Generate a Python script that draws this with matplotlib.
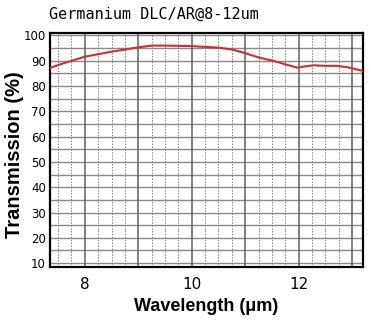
import numpy as np
import matplotlib
matplotlib.use("Agg")
import matplotlib.pyplot as plt

# transmission curve
wavelength = [7.35, 7.6, 8.0, 8.5, 9.0, 9.25, 9.5, 10.0, 10.15, 10.5, 10.77, 11.0, 11.27, 11.52, 11.75, 11.97, 12.27, 12.5, 12.7, 12.9, 13.2]
transmission = [87.2, 89.0, 91.6, 93.6, 95.3, 96.0, 96.0, 95.8, 95.6, 95.2, 94.4, 93.0, 91.2, 90.0, 88.6, 87.3, 88.2, 88.0, 88.0, 87.5, 86.0]

xtick_vals = [8, 10, 12]
ytick_vals = [10, 20, 30, 40, 50, 60, 70, 80, 90, 100]

fig = plt.figure(figsize=(3.71, 3.2), dpi=100)
ax = fig.add_axes([0.135, 0.166, 0.843, 0.731])

ax.set_xlim(7.35, 13.2)
ax.set_ylim(8.5, 101)

# grid: horizontal every 5 %, solid verticals at integers, dotted at quarters
for y in np.arange(10, 101, 5):
    ax.axhline(y, color="#8a8a8a", lw=1.0, zorder=1)
for x in np.arange(7.5, 13.3, 0.25):
    if abs(x - round(x)) < 1e-6:
        ax.axvline(x, color="#606060", lw=1.1, zorder=1)
    else:
        ax.axvline(x, color="#808080", lw=0.7, ls=(0, (1.5, 1.5)), zorder=1)

ax.plot(wavelength, transmission, color="#d42a3a", lw=1.5, zorder=3)

narrow = ["Liberation Sans Narrow", "DejaVu Sans"]
ax.set_xticks(xtick_vals)
ax.set_xticklabels([str(v) for v in xtick_vals], family=narrow, fontsize=11)
ax.set_yticks(ytick_vals)
ax.set_yticklabels([str(v) for v in ytick_vals], family=narrow, fontsize=8.5)
ax.tick_params(length=0, pad=3)
ax.tick_params(axis="x", pad=7)

for s in ax.spines.values():
    s.set_linewidth(1.6)
    s.set_color("black")

fig.text(0.555, 0.041, "Wavelength (μm)", fontsize=13, fontweight="bold",
         family="Liberation Sans", ha="center", va="center")
fig.text(0.038, 0.516, "Transmission (%)", fontsize=14.5, fontweight="bold",
         family="Liberation Sans", ha="center", va="center", rotation=90)

fig.text(0.132, 0.955, "Germanium DLC/AR@8-12um", fontsize=10.9, family="DejaVu Sans Mono", va="center", ha="left")

fig.savefig("out.png", dpi=100)
